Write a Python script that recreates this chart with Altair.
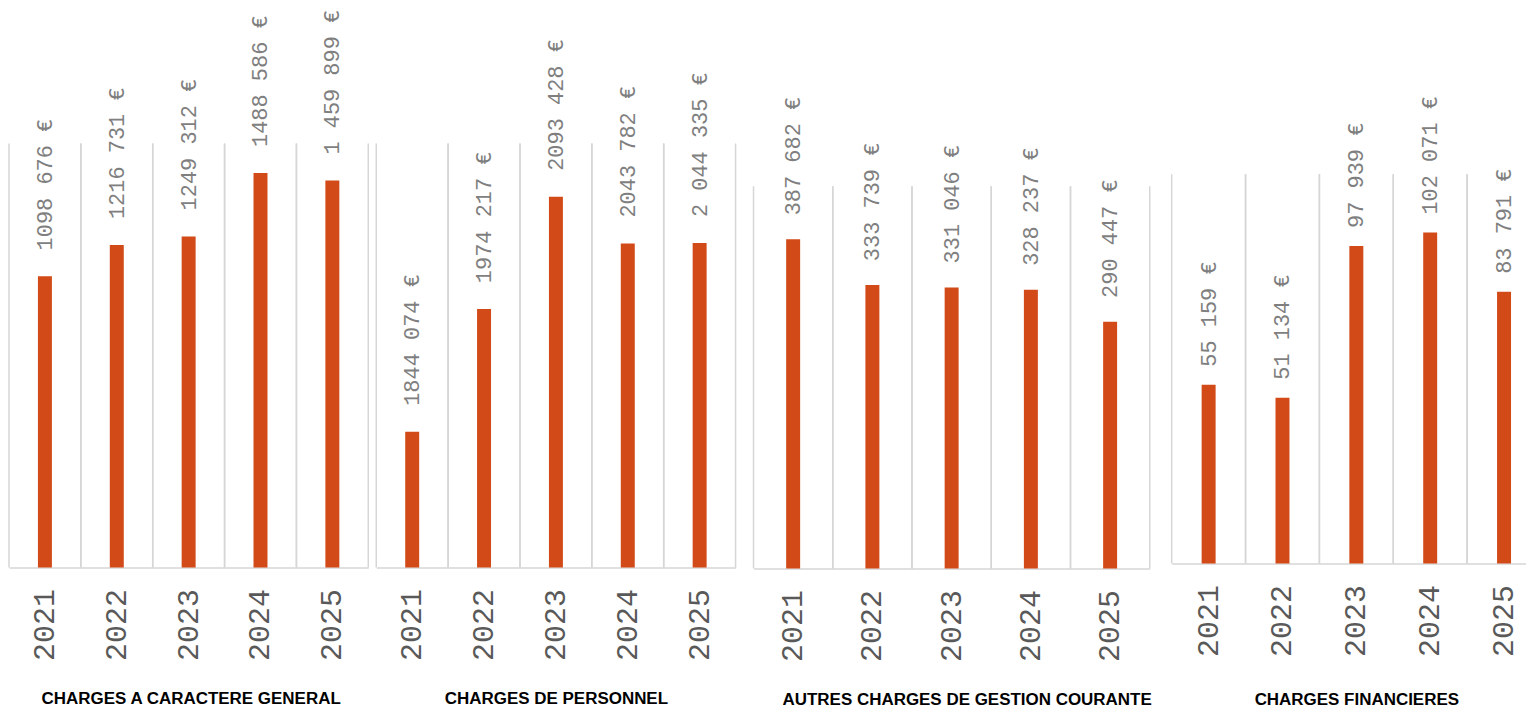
import altair as alt
import pandas as pd

years = ["2021", "2022", "2023", "2024", "2025"]

titles = [
    "CHARGES A CARACTERE GENERAL",
    "CHARGES DE PERSONNEL",
    "AUTRES CHARGES DE GESTION  COURANTE",
    "CHARGES FINANCIERES",
]

vals_general = [1098676, 1216731, 1249312, 1488586, 1459899]
labels_general = ["1098 676 €", "1216 731 €", "1249 312 €", "1488 586 €", "1 459 899 €"]

vals_personnel = [1844074, 1974217, 2093428, 2043782, 2044335]
labels_personnel = ["1844 074 €", "1974 217 €", "2093 428 €", "2043 782 €", "2 044 335 €"]

vals_gestion = [387682, 333739, 331046, 328237, 290447]
labels_gestion = ["387 682 €", "333 739 €", "331 046 €", "328 237 €", "290 447 €"]

vals_fin = [55159, 51134, 97939, 102071, 83791]
labels_fin = ["55 159 €", "51 134 €", "97 939 €", "102 071 €", "83 791 €"]

# value-axis range of each panel (min, max)
axis_min = [0, 1700000, 0, 0]
axis_max = [1600000, 2150000, 450000, 120000]

BAR = "#D14A18"
GRID = "#D6D6D6"

panel_specs = [
    # (vals, labels, total width, band range width, height, axis px height, label dx, title pad, title shift)
    (vals_general, labels_general, 368, 360, 559, 425, 26, 30, 2),
    (vals_personnel, labels_personnel, 378, 360, 559, 425, 26, 30, 0),
    (vals_gestion, labels_gestion, 419, 397, 560, 383, 24, 30, 15),
    (vals_fin, labels_fin, 379, 370, 555, 390, 18, 35, 0),
]


def panel(i):
    vals, labels, w, rw, h, axis_px, ldx, tpad, tshift = panel_specs[i]
    lo, hi = axis_min[i], axis_max[i]
    top = lo + (hi - lo) * h / axis_px
    df = pd.DataFrame({"year": years, "value": vals, "label": labels})
    xscale = alt.Scale(type="band", paddingInner=0, paddingOuter=0, range=[0, rw])
    yscale = alt.Scale(domain=[lo, top], nice=False, zero=False)
    xaxis = alt.Axis(
        title=titles[i],
        labelAngle=-90,
        labelFont="Liberation Mono",
        labelFontSize=30,
        labelColor="#595959",
        labelPadding=21,
        ticks=False,
        domainColor=GRID,
        domainWidth=1.5,
        grid=False,
        titleFont="Liberation Sans",
        titleFontSize=17,
        titleFontWeight="bold",
        titleColor="#000000",
        titlePadding=tpad,
        titleX=rw / 2 + tshift,
    )
    base = alt.Chart(df)
    sep_left = base.mark_rule(color=GRID, strokeWidth=1.5).encode(
        x=alt.X("year:N", scale=xscale, bandPosition=0, axis=xaxis, sort=years),
        y=alt.datum(hi, scale=yscale, axis=None),
        y2=alt.datum(lo),
    )
    sep_right = base.mark_rule(color=GRID, strokeWidth=1.5).encode(
        x=alt.X("year:N", scale=xscale, bandPosition=1, sort=years),
        y=alt.datum(hi, scale=yscale, axis=None),
        y2=alt.datum(lo),
    )
    bars = base.mark_bar(size=14, color=BAR).encode(
        x=alt.X("year:N", scale=xscale, sort=years),
        y=alt.Y("value:Q", scale=yscale, axis=None),
        y2=alt.datum(lo),
    )
    text = base.mark_text(
        angle=270,
        align="left",
        baseline="middle",
        dx=ldx,
        font="Liberation Mono",
        fontSize=22,
        color="#7F7F7F",
    ).encode(
        x=alt.X("year:N", scale=xscale, sort=years),
        y=alt.Y("value:Q", scale=yscale, axis=None),
        text="label:N",
    )
    return alt.layer(sep_left, sep_right, bars, text).properties(width=w, height=h)


chart = (
    alt.hconcat(*[panel(i) for i in range(4)], spacing=0, bounds="flush")
    .properties(padding={"left": 0, "top": 0, "right": -24, "bottom": 0})
    .configure_view(strokeWidth=0)
)

chart.save("out.html", embed_options={"renderer": "svg", "actions": False})
